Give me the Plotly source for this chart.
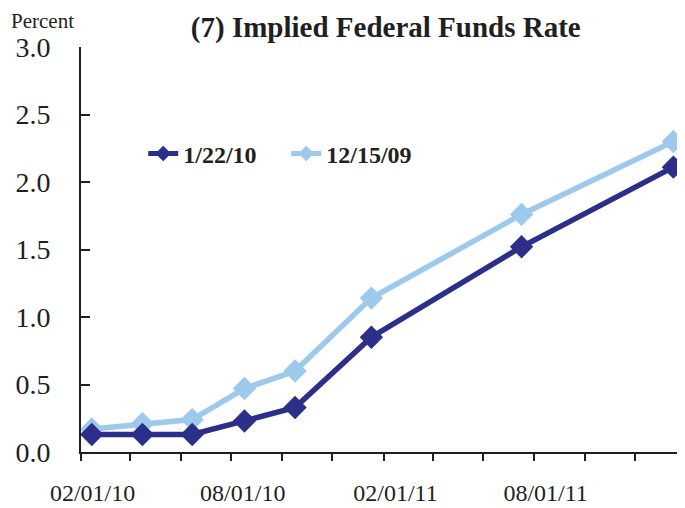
import plotly.graph_objects as go

dates = ["2010-02-14", "2010-04-16", "2010-06-15", "2010-08-17", "2010-10-17",
         "2011-01-17", "2011-07-17", "2012-01-16"]
rate_0122 = [0.13, 0.13, 0.13, 0.23, 0.33, 0.85, 1.52, 2.11]
rate_1215 = [0.17, 0.21, 0.24, 0.47, 0.60, 1.14, 1.76, 2.30]

tick_dates = ["2010-02-01", "2010-04-01", "2010-06-01", "2010-08-01", "2010-10-01",
              "2010-12-01", "2011-02-01", "2011-04-01", "2011-06-01", "2011-08-01",
              "2011-10-01", "2011-12-01"]
label_dates = ["2010-02-15", "2010-08-15", "2011-02-15", "2011-08-15"]
label_text = ["02/01/10", "08/01/10", "02/01/11", "08/01/11"]

y_ticks = [0, 0.5, 1, 1.5, 2, 2.5, 3]
y_labels = ["0.0", "0.5", "1.0", "1.5", "2.0", "2.5", "3.0"]

dark = "#2B2F8A"
light = "#9DCAEC"
ink = "#231F20"

fig = go.Figure()
fig.add_trace(go.Scatter(x=dates, y=rate_1215, name="12/15/09", mode="lines+markers",
                         line=dict(color=light, width=5.5),
                         marker=dict(symbol="diamond", size=18, color=light)))
fig.add_trace(go.Scatter(x=dates, y=rate_0122, name="1/22/10", mode="lines+markers",
                         line=dict(color=dark, width=5.5),
                         marker=dict(symbol="diamond", size=18, color=dark)))

fig.update_layout(
    width=677, height=500,
    margin=dict(l=73, r=0, t=39, b=56, autoexpand=False),
    paper_bgcolor="white", plot_bgcolor="white",
    font=dict(family="Liberation Serif", color=ink),
    showlegend=True,
    legend=dict(orientation="h", x=0.103, y=0.736, xanchor="left", yanchor="middle",
                font=dict(size=24, family="Liberation Serif", weight="bold"),
                bgcolor="rgba(0,0,0,0)", traceorder="reversed", itemsizing="constant",
                entrywidth=98, entrywidthmode="pixels"),
    title=dict(text="<b>(7) Implied Federal Funds Rate</b>", xref="container", x=0.558,
               xanchor="center", yref="container", y=0.962, yanchor="middle",
               font=dict(size=29, family="Liberation Serif")),
    annotations=[dict(text="Percent", xref="paper", yref="paper", x=-0.1175, y=1.0963,
                      xanchor="left", yanchor="top", showarrow=False, borderpad=0,
                      font=dict(size=21, family="Liberation Serif"))],
)

fig.update_xaxes(type="date", range=["2010-02-01", "2012-01-30"],
                 tickmode="array", tickvals=label_dates, ticktext=label_text, ticks="",
                 minor=dict(tickmode="array", tickvals=tick_dates, ticks="outside",
                            ticklen=7, tickwidth=1.5, tickcolor=ink, showgrid=False),
                 showline=True, linecolor=ink, linewidth=2,
                 showgrid=False, zeroline=False,
                 tickfont=dict(size=24, family="Liberation Serif"),
                 ticklabelstandoff=18)
fig.update_yaxes(range=[0, 3], tickmode="array", tickvals=y_ticks, ticktext=y_labels,
                 ticks="inside", ticklen=9, tickwidth=1.5, tickcolor=ink,
                 showline=True, linecolor=ink, linewidth=2,
                 showgrid=False, zeroline=False,
                 tickfont=dict(size=28, family="Liberation Serif"),
                 ticklabelstandoff=23)

fig.write_html("out.html")
